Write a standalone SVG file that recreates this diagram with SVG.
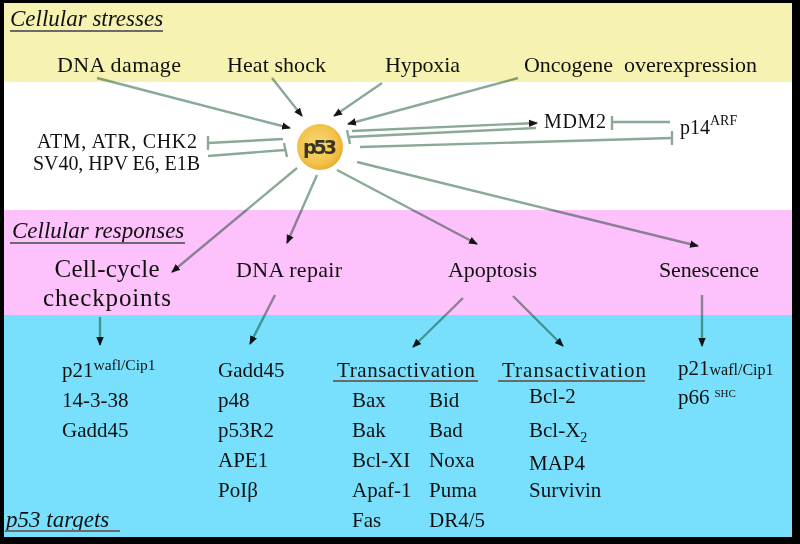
<svg xmlns="http://www.w3.org/2000/svg" width="800" height="544" viewBox="0 0 800 544">
<defs>
<marker id="ah" markerWidth="9" markerHeight="9" refX="8" refY="4.5" orient="auto" markerUnits="userSpaceOnUse"><path d="M0,0.8 L9,4.5 L0,8.2 z" fill="#151515"/></marker>
<radialGradient id="ball" cx="0.45" cy="0.45" r="0.6"><stop offset="0" stop-color="#f9d978"/><stop offset="0.7" stop-color="#f2c24a"/><stop offset="1" stop-color="#e6a92c"/></radialGradient>
</defs>
<style>
.t{fill:#111}
.h{font-style:italic;fill:#111;font-size:23px}
.s{font-size:22px}
.m{font-size:20px}
.r{font-size:22px}
.g{font-size:21px}
.ln{stroke:#8aa996;stroke-width:2.4;fill:none}
.bar{stroke:#8aa996;stroke-width:2.4;fill:none}
.ul{stroke:#6a6a6a;stroke-width:2;fill:none}
#connectors{mix-blend-mode:multiply}
</style>
<rect x="0" y="0" width="800" height="544" fill="#000"/>
<rect x="4" y="3" width="788" height="79" fill="#f6f3b2"/>
<rect x="4" y="82" width="788" height="128" fill="#ffffff"/>
<rect x="4" y="210" width="788" height="105" fill="#fdc1fb"/>
<rect x="4" y="315" width="788" height="222" fill="#78e0fc"/>

<g font-family="Liberation Serif, DejaVu Serif, Times New Roman, serif">
<g id="headers">
<text class="h" x="10" y="26">Cellular stresses</text>
<line class="ul" x1="10" y1="31" x2="163" y2="31"/>
<text class="h" x="12" y="238">Cellular responses</text>
<line class="ul" x1="10" y1="243" x2="185" y2="243"/>
<text class="h" x="6" y="527">p53 targets</text>
<line class="ul" x1="5" y1="531" x2="120" y2="531"/>
</g>

<g id="connectors">
<line class="ln" x1="97" y1="78" x2="290" y2="128" marker-end="url(#ah)"/>
<line class="ln" x1="272" y1="78" x2="302" y2="116" marker-end="url(#ah)"/>
<line class="ln" x1="382" y1="83" x2="334" y2="116" marker-end="url(#ah)"/>
<line class="ln" x1="518" y1="78" x2="348" y2="124" marker-end="url(#ah)"/>
<line class="ln" x1="352" y1="131" x2="537" y2="123" marker-end="url(#ah)"/>
<line class="ln" x1="536" y1="128" x2="349" y2="137"/>
<line class="bar" x1="347" y1="130" x2="350" y2="144"/>
<line class="ln" x1="360" y1="147" x2="672" y2="138"/>
<line class="bar" x1="672" y1="131" x2="672" y2="145"/>
<line class="ln" x1="670" y1="122" x2="612" y2="122"/>
<line class="bar" x1="612" y1="116" x2="612" y2="130"/>
<line class="ln" x1="283" y1="139" x2="208" y2="143"/>
<line class="bar" x1="208" y1="136" x2="208" y2="150"/>
<line class="ln" x1="208" y1="156" x2="285" y2="150"/>
<line class="bar" x1="284" y1="143" x2="287" y2="157"/>
<line class="ln" x1="297" y1="168" x2="172" y2="272" marker-end="url(#ah)"/>
<line class="ln" x1="317" y1="175" x2="287" y2="243" marker-end="url(#ah)"/>
<line class="ln" x1="337" y1="170" x2="477" y2="244" marker-end="url(#ah)"/>
<line class="ln" x1="357" y1="162" x2="698" y2="246" marker-end="url(#ah)"/>
<line class="ln" x1="100" y1="317" x2="100" y2="345" marker-end="url(#ah)"/>
<line class="ln" x1="275" y1="295" x2="250" y2="344" marker-end="url(#ah)"/>
<line class="ln" x1="463" y1="298" x2="413" y2="347" marker-end="url(#ah)"/>
<line class="ln" x1="513" y1="296" x2="563" y2="346" marker-end="url(#ah)"/>
<line class="ln" x1="702" y1="295" x2="702" y2="346" marker-end="url(#ah)"/>
</g>

<g id="stresses">
<text class="t s" x="57" y="72" textLength="124">DNA damage</text>
<text class="t s" x="227" y="72" textLength="99">Heat shock</text>
<text class="t s" x="385" y="72" textLength="75">Hypoxia</text>
<text class="t s" x="524" y="72" textLength="233" xml:space="preserve">Oncogene  overexpression</text>
</g>

<g id="p53">
<circle cx="320" cy="147" r="23" fill="url(#ball)"/>
<text x="320" y="154" text-anchor="middle" font-family="DejaVu Sans, sans-serif" font-weight="bold" font-size="19" fill="#3a3424" textLength="34">p53</text>
</g>

<g id="regulators-left">
<text class="t m" x="37" y="148" textLength="160">ATM, ATR, CHK2</text>
<text class="t m" x="33" y="170" textLength="167">SV40, HPV E6, E1B</text>
</g>

<g id="mdm2"><text class="t m" x="544" y="128" textLength="62">MDM2</text></g>
<g id="p14arf"><text class="t m" x="680" y="134">p14<tspan font-size="14" dy="-9">ARF</tspan></text></g>

<g id="responses">
<text class="t" font-size="25" x="107" y="277" text-anchor="middle" textLength="105">Cell-cycle</text>
<text class="t" font-size="25" x="107" y="306" text-anchor="middle" textLength="128">checkpoints</text>
<text class="t r" x="236" y="277" textLength="106">DNA repair</text>
<text class="t r" x="448" y="277" textLength="89">Apoptosis</text>
<text class="t r" x="659" y="277" textLength="100">Senescence</text>
</g>

<g id="targets-cellcycle">
<text class="t g" x="62" y="377">p21<tspan font-size="15.5" dy="-7">wafl/Cip1</tspan></text>
<text class="t g" x="62" y="407">14-3-38</text>
<text class="t g" x="62" y="437">Gadd45</text>
</g>

<g id="targets-repair">
<text class="t g" x="218" y="377">Gadd45</text>
<text class="t g" x="218" y="407">p48</text>
<text class="t g" x="218" y="437">p53R2</text>
<text class="t g" x="218" y="467">APE1</text>
<text class="t g" x="218" y="497">PoIβ</text>
</g>

<g id="targets-apoptosis-1">
<text class="t g" x="337" y="377" textLength="138">Transactivation</text>
<line class="ul" x1="333" y1="381" x2="478" y2="381"/>
<text class="t g" x="352" y="407">Bax</text>
<text class="t g" x="352" y="437">Bak</text>
<text class="t g" x="352" y="467">Bcl-XI</text>
<text class="t g" x="352" y="497">Apaf-1</text>
<text class="t g" x="352" y="527">Fas</text>
<text class="t g" x="429" y="407">Bid</text>
<text class="t g" x="429" y="437">Bad</text>
<text class="t g" x="429" y="467">Noxa</text>
<text class="t g" x="429" y="497">Puma</text>
<text class="t g" x="429" y="527">DR4/5</text>
</g>

<g id="targets-apoptosis-2">
<text class="t g" x="502" y="377" textLength="144">Transactivation</text>
<line class="ul" x1="498" y1="381" x2="645" y2="381"/>
<text class="t g" x="529" y="403">Bcl-2</text>
<text class="t g" x="529" y="437">Bcl-X<tspan font-size="14" dy="5">2</tspan></text>
<text class="t g" x="529" y="470">MAP4</text>
<text class="t g" x="529" y="497">Survivin</text>
</g>

<g id="targets-senescence">
<text class="t g" x="678" y="375">p21<tspan font-size="16">wafl/Cip1</tspan></text>
<text class="t g" x="678" y="404">p66<tspan font-size="11" dx="5" dy="-7">SHC</tspan></text>
</g>
</g>
</svg>
